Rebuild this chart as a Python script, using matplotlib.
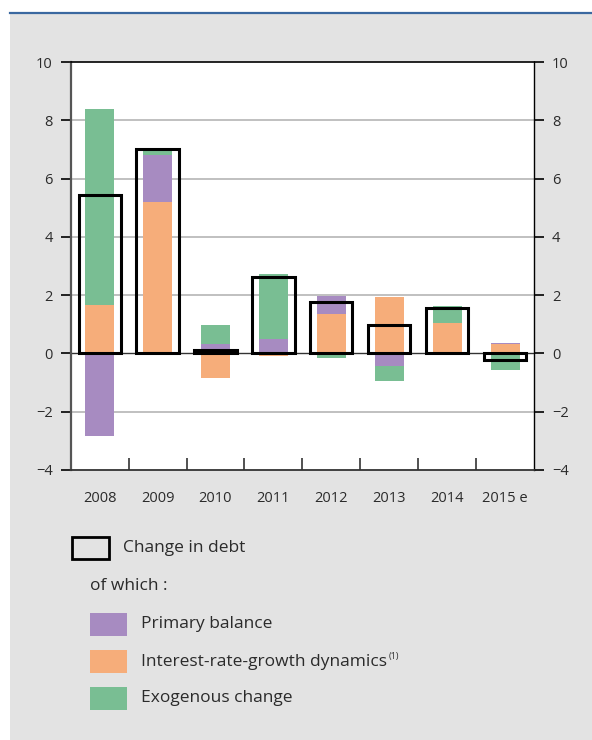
import numpy as np
import matplotlib
matplotlib.use("Agg")
import matplotlib.pyplot as plt
from matplotlib.patches import Rectangle
from matplotlib.lines import Line2D

# ── Data (percentage points of GDP) ──────────────────────────────────────────
years     = ["2008", "2009", "2010", "2011", "2012", "2013", "2014", "2015 e"]
primary   = [-2.85, 1.60, 0.32, 0.49, 0.63, -0.43, 0.00, 0.03]
interest  = [1.65, 5.20, -0.83, -0.08, 1.35, 1.93, 1.05, 0.33]
exogenous = [6.75, 0.25, 0.65, 2.23, -0.15, -0.51, 0.57, -0.56]
change    = [5.45, 7.00, 0.12, 2.61, 1.77, 0.97, 1.57, -0.22]

C_PRIM  = "#a78bc1"
C_INT   = "#f6ad7a"
C_EXO   = "#79be93"
BG      = "#e3e3e3"
TXT     = "#2b2b2b"
FONT    = "Open Sans"

plt.rcParams["font.family"] = [FONT, "DejaVu Sans"]

W, H = 592, 740
fig = plt.figure(figsize=(W / 100, H / 100), dpi=100)
fig.patch.set_facecolor("white")

def fx(px):
    return px / W

def fy(py):
    return 1 - py / H

# grey panel + blue rule on top
fig.patches.append(Rectangle((fx(10), 0), 1 - fx(10), fy(14), transform=fig.transFigure,
                             facecolor=BG, edgecolor="none", zorder=-5))
fig.add_artist(Line2D([fx(10), 1], [fy(13), fy(13)], color="#3a68a0", linewidth=1.6))

ax = fig.add_axes([fx(70.7), fy(470), fx(534) - fx(70.7), fy(62) - fy(470)])
ax.set_facecolor("white")
ax.set_zorder(2)

x = np.arange(len(years))
series = [(interest, C_INT), (primary, C_PRIM), (exogenous, C_EXO)]
pos_base = np.zeros(len(years))
neg_base = np.zeros(len(years))
for vals, col in series:
    v = np.array(vals)
    bottoms = np.where(v >= 0, pos_base, neg_base)
    ax.bar(x, v, bottom=bottoms, width=0.5, color=col, zorder=3, linewidth=0)
    pos_base = pos_base + np.where(v > 0, v, 0)
    neg_base = neg_base + np.where(v < 0, v, 0)

ax.bar(x, change, width=0.73, facecolor="none", edgecolor="black", linewidth=2.2, zorder=4)

ax.set_xlim(-0.5, len(years) - 0.5)
ax.set_ylim(-4, 10)
yt = np.arange(-4, 11, 2)
ax.set_yticks(yt)
ylabels = [f"{v}".replace("-", "\u2212") for v in yt]
ax.set_yticklabels(ylabels)
for v in yt:
    if v in (-4, 10):
        continue
    if v == 0:
        ax.axhline(0, color="#333333", linewidth=1.0, zorder=2)
    else:
        ax.axhline(v, color="#c0c0c0", linewidth=1.4, zorder=1)

ax.tick_params(axis="y", which="both", direction="out", length=7, width=1.2,
               labelsize=10.5, labelcolor=TXT, pad=6, right=True, labelright=True)
ax.set_xticks(x)
ax.set_xticklabels(years)
ax.set_xticks(np.arange(0.5, len(years) - 1, 1), minor=True)
ax.tick_params(axis="x", which="major", length=0, pad=15, labelsize=10.5, labelcolor=TXT)
ax.tick_params(axis="x", which="minor", direction="in", length=9, width=1.2, color="#333333")

ax.spines["left"].set_color("#555555")
ax.spines["left"].set_linewidth(1.6)
ax.spines["bottom"].set_color("#333333")
ax.spines["bottom"].set_linewidth(1.3)
ax.spines["top"].set_color("black")
ax.spines["top"].set_linewidth(1.2)
ax.spines["right"].set_color("black")
ax.spines["right"].set_linewidth(1.0)

# ── Legend (drawn by hand) ───────────────────────────────────────────────────
fig.patches.append(Rectangle((fx(72), fy(559)), fx(109) - fx(72), fy(537) - fy(559),
                             transform=fig.transFigure, facecolor="none",
                             edgecolor="black", linewidth=2.0))
fig.text(fx(123), fy(548), "Change in debt", fontsize=12.5, color=TXT, va="center")
fig.text(fx(90), fy(586), "of which :", fontsize=12.5, color=TXT, va="center")

legend_items = [("Primary balance", C_PRIM, 624),
                ("Interest-rate-growth dynamics", C_INT, 661.5),
                ("Exogenous change", C_EXO, 698.5)]
texts = []
for label, col, yc in legend_items:
    fig.patches.append(Rectangle((fx(90), fy(yc + 11.5)), fx(127) - fx(90), fy(yc - 11.5) - fy(yc + 11.5),
                                 transform=fig.transFigure, facecolor=col, edgecolor="none"))
    texts.append(fig.text(fx(141), fy(yc), label, fontsize=12.5, color=TXT, va="center"))

fig.canvas.draw()
bb = texts[1].get_window_extent()
fig.text(fx(bb.x1 + 2), fy(656), "(1)", fontsize=6.5, color=TXT, va="center")

fig.savefig("out.png", dpi=100, facecolor=fig.get_facecolor())
